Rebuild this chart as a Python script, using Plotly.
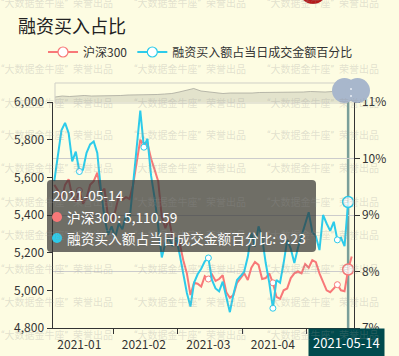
import pandas as pd
import plotly.graph_objects as go

# ---------------- data ----------------
holidays = ["2021-02-11", "2021-02-12", "2021-02-15", "2021-02-16", "2021-02-17",
            "2021-04-05", "2021-05-03", "2021-05-04", "2021-05-05"]
dates = [d.strftime("%Y-%m-%d") for d in pd.bdate_range("2021-01-07", "2021-05-17")
         if d.strftime("%Y-%m-%d") not in holidays]

hs300 = [5560, 5530, 5480, 5560, 5590, 5500, 5470, 5530, 5460, 5490,
         5560, 5580, 5625, 5520, 5540, 5390, 5360, 5420, 5500, 5480,
         5495, 5485, 5560, 5680, 5800, 5770, 5780, 5700, 5640, 5580,
         5390, 5330, 5380, 5280, 5240, 5250, 5160, 5090, 4975, 5040,
         5035, 5020, 5075, 5060, 5085, 5050, 5060, 5080, 4990, 4960,
         4975, 5040, 5065, 5090, 5055, 5120, 5150, 5135, 5060, 5065,
         5090, 5040, 4965, 4955, 5000, 5010, 5065, 5090, 5100, 5090,
         5140, 5120, 5160, 5150, 5090, 5040, 5000, 4990, 5010, 5030,
         5000, 4995, 5110.59, 5180]

ratio = [9.6, 10.1, 10.5, 10.63, 10.45, 9.95, 10.12, 9.77, 9.8, 10.1,
         10.25, 10.3, 10.1, 9.45, 8.95, 8.65, 8.8, 8.6, 8.85, 8.75,
         9.0, 8.9, 9.6, 10.2, 10.85, 10.2, 10.35, 9.7, 9.3, 8.8,
         8.25, 8.5, 8.6, 8.45, 8.6, 8.3, 7.95, 7.62, 7.38, 7.8,
         7.95, 8.05, 8.18, 8.24, 7.85, 7.7, 7.65, 7.82, 7.55, 7.28,
         7.6, 7.85, 7.92, 8.0, 8.26, 8.68, 8.44, 8.8, 8.6, 8.15,
         7.8, 7.35, 7.85, 7.8, 8.15, 8.56, 8.4, 8.15, 8.42, 8.62,
         8.86, 9.05, 8.7, 8.62, 8.38, 9.0, 8.85, 8.72, 8.88, 8.56,
         8.6, 8.45, 9.23, None]

# long-history overview shown in the zoom slider (approximate index levels)
overview = [2000, 2400, 2200, 2400, 2600, 2400, 2400, 2600, 2400, 2600,
            2800, 2800, 3000, 2800, 3000, 3200, 3400, 4000, 4800, 5400,
            4400, 4000, 3600, 3400, 3600, 3600, 3400, 3600, 3800, 3800,
            4000, 3800, 3800, 4000, 4000, 4200, 4000, 4000, 4200, 4000, 4200]

label_idx = [7, 25, 43, 61, 79]
tick_label_text = [dates[i][:7] for i in label_idx]
boundary_ticks = [16.5, 34.5, 52.5, 70.5]
hover_idx = 82

series_names = ["沪深300", "融资买入额占当日成交金额百分比"]
title_text = "融资买入占比"
watermark_text = "“大数据金牛座”  荣誉出品"

# ---------------- styles ----------------
W, H = 399, 356
BG = "#fdfce2"
RED = "#f87878"
CYAN = "#2ccbea"
AXIS = "#333333"
FONT = "'Noto Sans CJK SC', sans-serif"
TIP_SIZE = 13.7


def px(x):
    return x / W


def py(y):
    return 1 - y / H


x_idx = list(range(len(dates)))

fig = go.Figure()

# legend-only entries
fig.add_trace(go.Scatter(x=[None], y=[None], mode="lines+markers", name=series_names[0],
                         line=dict(color=RED, width=2),
                         marker=dict(size=10, color="white", line=dict(color=RED, width=1.2))))
fig.add_trace(go.Scatter(x=[None], y=[None], mode="lines+markers", name=series_names[1],
                         line=dict(color=CYAN, width=2),
                         marker=dict(size=10, color="white", line=dict(color=CYAN, width=1.2))))

# main lines
fig.add_trace(go.Scatter(x=x_idx, y=hs300, mode="lines", line=dict(color=RED, width=2),
                         showlegend=False, customdata=dates, yaxis="y"))
fig.add_trace(go.Scatter(x=label_idx, y=[hs300[i] for i in label_idx], mode="markers",
                         marker=dict(size=6, color="white", line=dict(color=RED, width=1)),
                         showlegend=False, yaxis="y"))
fig.add_trace(go.Scatter(x=[hover_idx], y=[hs300[hover_idx]], mode="markers",
                         marker=dict(size=11, color="rgba(255,255,255,0.75)", line=dict(color=RED, width=1.5)),
                         showlegend=False, yaxis="y"))

fig.add_trace(go.Scatter(x=x_idx, y=ratio, mode="lines", line=dict(color=CYAN, width=2),
                         showlegend=False, customdata=dates, yaxis="y2"))
fig.add_trace(go.Scatter(x=label_idx, y=[ratio[i] for i in label_idx], mode="markers",
                         marker=dict(size=6, color="white", line=dict(color=CYAN, width=1)),
                         showlegend=False, yaxis="y2"))
fig.add_trace(go.Scatter(x=[hover_idx], y=[ratio[hover_idx]], mode="markers",
                         marker=dict(size=11, color="rgba(255,255,255,0.75)", line=dict(color=CYAN, width=1.5)),
                         showlegend=False, yaxis="y2"))

# slider overview
fig.add_trace(go.Scatter(x=list(range(len(overview))), y=overview, mode="lines",
                         fill="tozeroy", fillcolor="rgba(205,205,185,0.55)",
                         line=dict(color="rgba(160,160,150,0.9)", width=0.8),
                         showlegend=False, xaxis="x2", yaxis="y3"))

shapes = []
# axis pointer line
shapes.append(dict(type="line", xref="x", yref="paper", x0=hover_idx, x1=hover_idx,
                   y0=py(328), y1=py(102), line=dict(color="#7a9f9a", width=2.5), layer="below"))
# slider frame
shapes.append(dict(type="rect", xref="paper", yref="paper", x0=px(55), x1=px(347),
                   y0=py(103), y1=py(83), line=dict(color="#cfcfc6", width=1)))
# slider handles
for cx in (344.5, 357.5):
    shapes.append(dict(type="circle", xref="paper", yref="paper",
                       x0=px(cx - 12.5), x1=px(cx + 12.5), y0=py(103), y1=py(78),
                       fillcolor="#a8b7cc", line=dict(width=0)))
for cy in (89, 96):
    shapes.append(dict(type="circle", xref="paper", yref="paper",
                       x0=px(350), x1=px(352), y0=py(cy + 1), y1=py(cy - 1),
                       fillcolor="#e8edf4", line=dict(width=0)))
# partial red logo at the top
shapes.append(dict(type="circle", xref="paper", yref="paper", x0=px(299), x1=px(327),
                   y0=py(4), y1=py(-24), fillcolor="#b51a1a", line=dict(width=0)))

# tooltip box (rounded)
tx0, tx1, ty0, ty1, r = 47, 316, 180, 252, 4
rx, ry = r / W, r / H
X0, X1, Y0, Y1 = px(tx0), px(tx1), py(ty0), py(ty1)
path = (f"M {X0+rx},{Y0} L {X1-rx},{Y0} Q {X1},{Y0} {X1},{Y0-ry} "
        f"L {X1},{Y1+ry} Q {X1},{Y1} {X1-rx},{Y1} L {X0+rx},{Y1} "
        f"Q {X0},{Y1} {X0},{Y1+ry} L {X0},{Y0-ry} Q {X0},{Y0} {X0+rx},{Y0} Z")
shapes.append(dict(type="path", xref="paper", yref="paper", path=path,
                   fillcolor="rgba(50,50,50,0.7)", line=dict(width=0), layer="above"))
for cy, col in ((217, RED), (238, CYAN)):
    shapes.append(dict(type="circle", xref="paper", yref="paper",
                       x0=px(52), x1=px(62), y0=py(cy + 5), y1=py(cy - 5),
                       fillcolor=col, line=dict(width=0), layer="above"))

annotations = []
# tooltip text
annotations.append(dict(text=dates[hover_idx], xref="paper", yref="paper", x=px(51), y=py(195),
                        xanchor="left", yanchor="middle", showarrow=False,
                        font=dict(size=TIP_SIZE, color="white", family=FONT)))
annotations.append(dict(text=f"{series_names[0]}: {hs300[hover_idx]:,.2f}", xref="paper", yref="paper",
                        x=px(65), y=py(217), xanchor="left", yanchor="middle", showarrow=False,
                        font=dict(size=TIP_SIZE, color="white", family=FONT)))
annotations.append(dict(text=f"{series_names[1]}: {ratio[hover_idx]:.2f}", xref="paper", yref="paper",
                        x=px(65), y=py(238), xanchor="left", yanchor="middle", showarrow=False,
                        font=dict(size=TIP_SIZE, color="white", family=FONT)))
# axis pointer label
annotations.append(dict(text=dates[hover_idx], xref="paper", yref="paper", x=px(346.5), y=py(342),
                        xanchor="center", yanchor="middle", showarrow=False,
                        bgcolor="#004a4d", borderpad=4,
                        font=dict(size=13, color="white", family=FONT)))
# watermark
for wy in (3, 69, 103, 135, 168, 202, 235, 269, 302, 335):
    for wx in (-1, 132, 265):
        annotations.append(dict(text=watermark_text, xref="paper", yref="paper", x=px(wx), y=py(wy),
                                xanchor="left", yanchor="middle", showarrow=False,
                                font=dict(size=10, color="rgba(150,150,150,0.28)",
                                          family="Roboto, 'Noto Sans CJK SC'")))

fig.update_layout(
    width=W, height=H, autosize=False,
    margin=dict(l=0, r=0, t=0, b=0, pad=0, autoexpand=False),
    paper_bgcolor=BG, plot_bgcolor=BG,
    font=dict(family=FONT, size=12, color=AXIS),
    title=dict(text=title_text, x=px(18), xanchor="left", y=py(27), yanchor="middle",
               xref="paper", yref="paper",
               font=dict(size=18, color="#222222", family=FONT)),
    legend=dict(orientation="h", x=px(43), y=py(52), xanchor="left", yanchor="middle",
                bgcolor="rgba(0,0,0,0)", itemwidth=30, font=dict(size=12, color=AXIS, family=FONT)),
    xaxis=dict(domain=[px(52.5), px(353.5)], range=[-0.5, len(dates) - 0.5], automargin=False,
               showline=True, linecolor=AXIS, linewidth=1, showgrid=False, zeroline=False,
               tickmode="array", tickvals=label_idx, ticktext=tick_label_text,
               ticks="outside", ticklen=6, tickcolor="rgba(0,0,0,0)",
               minor=dict(tickmode="array", tickvals=boundary_ticks, ticks="outside",
                          ticklen=5, tickcolor=AXIS, showgrid=False),
               tickfont=dict(size=12, color=AXIS), anchor="y"),
    yaxis=dict(domain=[py(328), py(102)], range=[4800, 6000], tick0=4800, dtick=200, automargin=False,
               tickformat=",", showline=True, linecolor=AXIS, linewidth=1, showgrid=False,
               zeroline=False, ticks="outside", ticklen=5, tickcolor=AXIS,
               tickfont=dict(size=12, color=AXIS), anchor="x"),
    yaxis2=dict(overlaying="y", side="right", range=[7, 11], tick0=7, dtick=1, ticksuffix="%",
                automargin=False,
                showline=True, linecolor=AXIS, linewidth=1, showgrid=True, gridcolor="#cccccc",
                zeroline=False, ticks="outside", ticklen=5, tickcolor=AXIS,
                tickfont=dict(size=12, color=AXIS), anchor="x"),
    xaxis2=dict(domain=[px(55), px(347)], range=[0, len(overview) - 1], visible=False,
                automargin=False, anchor="y3"),
    yaxis3=dict(domain=[py(102), py(83)], range=[0, 7600], visible=False,
                automargin=False, anchor="x2"),
    shapes=shapes, annotations=annotations,
    hovermode=False,
)

fig.write_html("out.html", config={"displayModeBar": False},
               post_script="document.body.style.margin='0px';document.body.style.overflow='hidden';")
